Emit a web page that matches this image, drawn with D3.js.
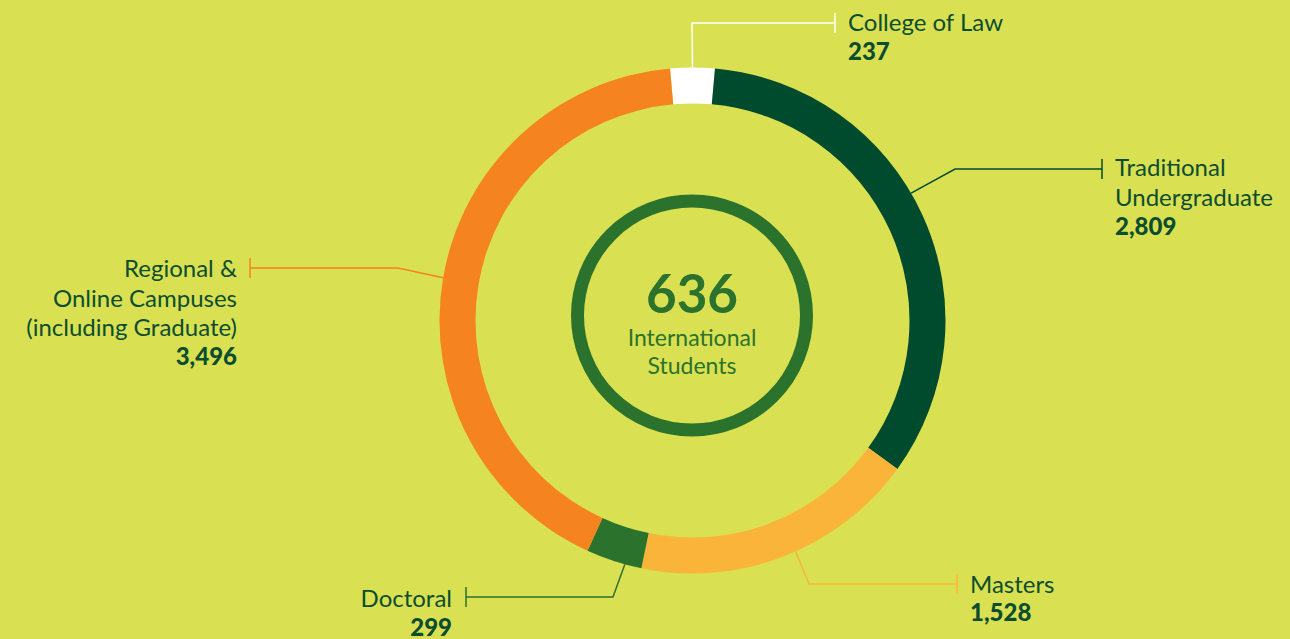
<!DOCTYPE html>
<html>
<head>
<meta charset="utf-8">
<script src="https://cdn.jsdelivr.net/npm/d3@7"></script>
<style>
  html, body { margin: 0; padding: 0; background: #d9e152; }
  svg { display: block; font-family: Lato, "Open Sans", sans-serif; }
</style>
</head>
<body>
<div id="chart"></div>
<script>
// Data
const categories = ["College of Law", "Traditional Undergraduate", "Masters", "Doctoral", "Regional & Online Campuses (including Graduate)"];
const values = [237, 2809, 1528, 299, 3496];
const colors = ["#ffffff", "#004b2e", "#fbb43a", "#2b722d", "#f5831f"];
const lineColors = ["#ffffff", "#004b2e", "#fbb43a", "#2b722d", "#f5831f"];
const labelLines = [
  ["College of Law"],
  ["Traditional", "Undergraduate"],
  ["Masters"],
  ["Doctoral"],
  ["Regional &", "Online Campuses", "(including Graduate)"]
];
const centerNumber = "636";
const centerLabel = ["International", "Students"];

// Set SVG parameters
const width = 1290,
      height = 639;
const cx = 692.5, cy = 320.5;
const outerR = 253, innerR = 217;

const svg = d3.select("#chart")
  .append("svg")
    .attr("width", width)
    .attr("height", height);

svg.append("rect")
  .attr("width", width)
  .attr("height", height)
  .attr("fill", "#d9e152");

// Law slice sits centred at 12 o'clock
const total = d3.sum(values);
const start = -Math.PI * values[0] / total;

const pie = d3.pie()
  .sort(null)
  .startAngle(start)
  .endAngle(start + 2 * Math.PI);

const arc = d3.arc()
  .innerRadius(innerR)
  .outerRadius(outerR);

const arcs = pie(values);

const g = svg.append("g")
  .attr("transform", `translate(${cx},${cy})`);

g.selectAll("path")
  .data(arcs)
  .join("path")
  .attr("d", arc)
  .attr("fill", (d, i) => colors[i]);

// Leader/label layout: elbow point, tick x, text anchor
const layout = [
  { angle: 0, elbow: [692, 23], tickX: 835, tx: 848, ty: 31, anchor: "start", lh: 30 },
  { angle: null, elbow: [955, 169], tickX: 1102, tx: 1115, ty: 176, anchor: "start", lh: 30, shift: -0.1 },
  { angle: null, elbow: [809, 584], tickX: 957, tx: 970, ty: 593, anchor: "start", lh: 29, shift: -0.05 },
  { angle: null, elbow: [613, 597], tickX: 466, tx: 452, ty: 607, anchor: "end", lh: 30, shift: -0.045 },
  { angle: null, elbow: [398, 268], tickX: 250, tx: 237, ty: 277, anchor: "end", lh: 29.5 }
];

const leaders = svg.append("g");
const labels = svg.append("g");

arcs.forEach(function(d, i) {
  const L = layout[i];
  const a = L.angle !== null ? L.angle : (d.startAngle + d.endAngle) / 2 + (L.shift || 0);
  const sx = cx + outerR * Math.sin(a);
  const sy = cy - outerR * Math.cos(a);
  const y = L.elbow[1];

  leaders.append("path")
    .attr("d", d3.line()([[sx, sy], L.elbow, [L.tickX, y]]))
    .attr("fill", "none")
    .attr("stroke", lineColors[i])
    .attr("stroke-width", 1.5);

  leaders.append("line")
    .attr("x1", L.tickX).attr("x2", L.tickX)
    .attr("y1", y - 10).attr("y2", y + 10)
    .attr("stroke", lineColors[i])
    .attr("stroke-width", 1.5);

  const lines = labelLines[i];
  lines.forEach(function(t, k) {
    labels.append("text")
      .attr("x", L.tx)
      .attr("y", L.ty + k * L.lh)
      .attr("text-anchor", L.anchor)
      .attr("fill", "#0c4d2f")
      .style("font-size", "24px")
      .text(t);
  });
  labels.append("text")
    .attr("x", L.tx)
    .attr("y", L.ty + lines.length * L.lh - 1)
    .attr("text-anchor", L.anchor)
    .attr("fill", "#0c4d2f")
    .style("font-size", "24px")
    .style("font-weight", "900")
    .text(d3.format(",")(values[i]));
});

// Center circle
const center = svg.append("g")
  .attr("transform", `translate(${cx - 0.5},${cy - 5})`);

center.append("circle")
  .attr("r", 114.5)
  .attr("fill", "none")
  .attr("stroke", "#2b722d")
  .attr("stroke-width", 13);

center.append("text")
  .attr("y", -3)
  .attr("text-anchor", "middle")
  .attr("fill", "#2b722d")
  .style("font-size", "53px")
  .style("font-weight", "700")
  .text(centerNumber);

centerLabel.forEach(function(t, k) {
  center.append("text")
    .attr("y", 30 + k * 28)
    .attr("text-anchor", "middle")
    .attr("fill", "#2b722d")
    .style("font-size", "23px")
    .text(t);
});
</script>
</body>
</html>
